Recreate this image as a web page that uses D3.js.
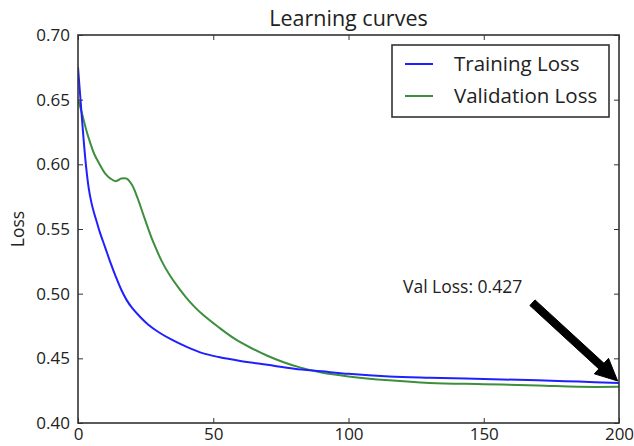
<!DOCTYPE html>
<html>
<head>
<meta charset="utf-8">
<script src="https://cdn.jsdelivr.net/npm/d3@7"></script>
<style>
  html, body { margin: 0; padding: 0; background: #fff; }
  svg { display: block; }
  text { font-family: "Open Sans", "Noto Sans", sans-serif; fill: #222; }
</style>
</head>
<body>
<svg id="chart" width="634" height="446"></svg>
<script>
// ---- data ----
const trainEpochs = [0, 1, 2, 3, 4, 5, 6, 7, 8, 10, 12, 14, 16, 18, 20, 23, 26, 30, 35, 40, 46, 52, 60, 70, 80, 90, 100, 115, 130, 150, 170, 185, 200];
const trainLoss   = [0.675, 0.648, 0.621, 0.598, 0.581, 0.570, 0.562, 0.555, 0.548, 0.536, 0.524, 0.513, 0.503, 0.495, 0.489, 0.482, 0.476, 0.470, 0.464, 0.459, 0.454, 0.451, 0.448, 0.445, 0.442, 0.440, 0.438, 0.436, 0.435, 0.434, 0.433, 0.432, 0.431];
const valEpochs   = [0, 1, 2, 3, 4, 6, 8, 10, 12, 14, 16, 18, 20, 22, 24, 26, 28, 31, 34, 37, 40, 43, 46, 52, 58, 64, 70, 76, 82, 90, 100, 115, 130, 150, 170, 185, 200];
const valLoss     = [0.650, 0.643, 0.635, 0.627, 0.620, 0.608, 0.600, 0.593, 0.589, 0.587, 0.589, 0.589, 0.584, 0.574, 0.562, 0.550, 0.539, 0.525, 0.514, 0.505, 0.497, 0.490, 0.484, 0.474, 0.465, 0.458, 0.452, 0.447, 0.443, 0.439, 0.436, 0.433, 0.431, 0.430, 0.429, 0.428, 0.428];
const seriesNames = ["Training Loss", "Validation Loss"];
const xTicks = [0, 50, 100, 150, 200];
const yTicks = [0.40, 0.45, 0.50, 0.55, 0.60, 0.65, 0.70];
const titleText = "Learning curves";
const yLabel = "Loss";
const annotationText = "Val Loss: 0.427";
const arrowTail = [168, 0.493];
const arrowTip  = [199.5, 0.4325];

// ---- layout ----
const svg = d3.select("#chart");
const L = 78, R = 619, T = 35, B = 423;
const x = d3.scaleLinear().domain([0, 200]).range([L, R]);
const y = d3.scaleLinear().domain([0.40, 0.70]).range([B, T]);
const axisColor = "#333";
const colors = ["#2020ff", "#3d8f3d"];

// lines
const line = d3.line().curve(d3.curveCatmullRom.alpha(0.5)).x(d => x(d[0])).y(d => y(d[1]));
const series = [
  trainEpochs.map((e, i) => [e, trainLoss[i]]),
  valEpochs.map((e, i) => [e, valLoss[i]])
];
svg.append("defs").append("clipPath").attr("id", "clip")
  .append("rect").attr("x", L).attr("y", T).attr("width", R - L).attr("height", B - T);
const plot = svg.append("g").attr("clip-path", "url(#clip)");
[1, 0].forEach(i => {
  plot.append("path").datum(series[i])
    .attr("d", line).attr("fill", "none")
    .attr("stroke", colors[i]).attr("stroke-width", 2);
});

// axes with inward ticks on all sides
const tickLen = 5;
const xb = svg.append("g").attr("transform", `translate(0,${B})`)
  .call(d3.axisBottom(x).tickValues(xTicks).tickFormat(d3.format("d")).tickSizeInner(-tickLen).tickSizeOuter(0).tickPadding(5));
const xt = svg.append("g").attr("transform", `translate(0,${T})`)
  .call(d3.axisTop(x).tickValues(xTicks).tickFormat("").tickSizeInner(-tickLen).tickSizeOuter(0));
const yl = svg.append("g").attr("transform", `translate(${L},0)`)
  .call(d3.axisLeft(y).tickValues(yTicks).tickFormat(d3.format(".2f")).tickSizeInner(-tickLen).tickSizeOuter(0).tickPadding(8));
const yr = svg.append("g").attr("transform", `translate(${R},0)`)
  .call(d3.axisRight(y).tickValues(yTicks).tickFormat("").tickSizeInner(-tickLen).tickSizeOuter(0));
[xb, xt, yl, yr].forEach(g => {
  g.select(".domain").remove();
  g.selectAll(".tick line").attr("stroke", axisColor).attr("stroke-width", 1);
  g.selectAll(".tick text").attr("font-size", 17).attr("fill", "#222")
    .style("font-family", "'Open Sans', sans-serif");
});
xb.selectAll(".tick text").attr("dy", "0.71em");

// frame
svg.append("rect").attr("x", L).attr("y", T).attr("width", R - L).attr("height", B - T)
  .attr("fill", "none").attr("stroke", axisColor).attr("stroke-width", 1.6);

// title
svg.append("text").attr("x", (L + R) / 2).attr("y", 26).attr("text-anchor", "middle")
  .attr("font-size", 21.5).text(titleText);

// y label
svg.append("text").attr("transform", `translate(24,${(T + B) / 2}) rotate(-90)`)
  .attr("text-anchor", "middle").attr("font-size", 17.5).text(yLabel);

// legend
const lg = svg.append("g");
lg.append("rect").attr("x", 392).attr("y", 45).attr("width", 217).attr("height", 72)
  .attr("fill", "#fff").attr("stroke", axisColor).attr("stroke-width", 1.6);
seriesNames.forEach((name, i) => {
  const cy = 64 + i * 32;
  lg.append("line").attr("x1", 405).attr("x2", 433).attr("y1", cy).attr("y2", cy)
    .attr("stroke", colors[i]).attr("stroke-width", 2);
  lg.append("text").attr("x", 454).attr("y", cy).attr("dy", "0.35em")
    .attr("font-size", 20.5).text(name);
});

// annotation
svg.append("text").attr("x", 403).attr("y", 293).attr("font-size", 17.5).text(annotationText);

// arrow (filled polygon, like matplotlib's default annotate arrow)
(function drawArrow() {
  const x0 = x(arrowTail[0]), y0 = y(arrowTail[1]);
  const x1 = x(arrowTip[0]), y1 = y(arrowTip[1]);
  const dx = x1 - x0, dy = y1 - y0, len = Math.hypot(dx, dy);
  const ux = dx / len, uy = dy / len, px = -uy, py = ux;
  const shaftW = 3.8, headW = 10.5, headL = 22;
  const bx = x1 - ux * headL, by = y1 - uy * headL;
  const pts = [
    [x0 + px * shaftW, y0 + py * shaftW],
    [bx + px * shaftW, by + py * shaftW],
    [bx + px * headW, by + py * headW],
    [x1, y1],
    [bx - px * headW, by - py * headW],
    [bx - px * shaftW, by - py * shaftW],
    [x0 - px * shaftW, y0 - py * shaftW]
  ];
  svg.append("polygon").attr("points", pts.map(p => p.join(",")).join(" "))
    .attr("fill", "#000").attr("stroke", "#000").attr("stroke-width", 1);
})();
</script>
</body>
</html>
